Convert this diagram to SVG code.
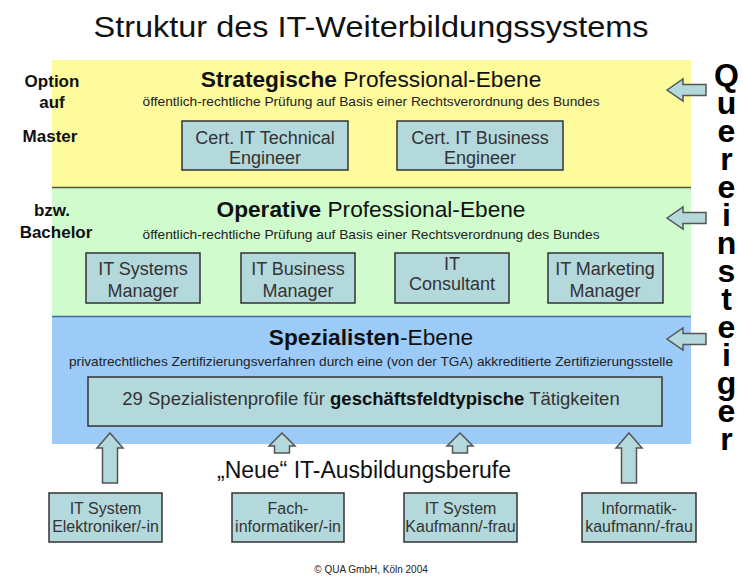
<svg xmlns="http://www.w3.org/2000/svg" width="743" height="577" viewBox="0 0 743 577">
<defs>
<style>
text{font-family:"Liberation Sans",Arial,sans-serif;}
.title{font-size:30px;fill:#111;}
.lbl{font-size:17px;font-weight:bold;fill:#111;text-anchor:middle;}
.head{font-size:22.7px;fill:#111;text-anchor:middle;}
.head .b{font-weight:bold;}
.sub{font-size:13px;fill:#222;text-anchor:middle;}
.box{fill:#b4d9dc;stroke:#333;stroke-width:1.5;}
.bt{font-size:18px;fill:#333;text-anchor:middle;}
.st{font-size:16px;fill:#333;text-anchor:middle;}
.arr{fill:#b4d9dc;stroke:#555;stroke-width:1.5;stroke-linejoin:miter;}
.qe{font-size:32px;font-weight:bold;fill:#000;writing-mode:vertical-rl;text-orientation:upright;letter-spacing:-8px;}
</style>
</defs>
<rect width="743" height="577" fill="#fff"/>
<text class="title" x="371" y="37" text-anchor="middle" textLength="555" lengthAdjust="spacingAndGlyphs">Struktur des IT-Weiterbildungssystems</text>

<g id="band-strategisch">
<rect x="52" y="60" width="639" height="127" fill="#fdfb9c"/>
<text class="head" x="371" y="87"><tspan class="b">Strategische</tspan> Professional-Ebene</text>
<text class="sub" x="371" y="106" textLength="457" lengthAdjust="spacingAndGlyphs">öffentlich-rechtliche Prüfung auf Basis einer Rechtsverordnung des Bundes</text>
</g>
<g id="band-operativ">
<rect x="52" y="188" width="639" height="128" fill="#cffbcd"/>
<text class="head" x="371" y="217"><tspan class="b">Operative</tspan> Professional-Ebene</text>
<text class="sub" x="371" y="239" textLength="457" lengthAdjust="spacingAndGlyphs">öffentlich-rechtliche Prüfung auf Basis einer Rechtsverordnung des Bundes</text>
</g>
<g id="band-spezialisten">
<rect x="52" y="317" width="639" height="127" fill="#9dcbf7"/>
<text class="head" x="371" y="345"><tspan class="b">Spezialisten</tspan>-Ebene</text>
<text class="sub" x="371" y="366" textLength="604" lengthAdjust="spacingAndGlyphs">privatrechtliches Zertifizierungsverfahren durch eine (von der TGA) akkreditierte Zertifizierungsstelle</text>
</g>
<line x1="52" y1="187.5" x2="691" y2="187.5" stroke="#55553f" stroke-width="1.5"/>
<line x1="52" y1="316.5" x2="691" y2="316.5" stroke="#3f6d9c" stroke-width="1.5"/>

<g id="labels">
<text class="lbl" x="52" y="87">Option</text>
<text class="lbl" x="52" y="108">auf</text>
<text class="lbl" x="50" y="142">Master</text>
<text class="lbl" x="52" y="216">bzw.</text>
<text class="lbl" x="56" y="238">Bachelor</text>
</g>

<g id="cert-technical">
<rect class="box" x="182" y="121" width="166" height="49"/>
<text class="bt" x="265" y="144">Cert. IT Technical</text>
<text class="bt" x="265" y="164">Engineer</text>
</g>
<g id="cert-business">
<rect class="box" x="397" y="121" width="166" height="49"/>
<text class="bt" x="480" y="144">Cert. IT Business</text>
<text class="bt" x="480" y="164">Engineer</text>
</g>

<g id="it-systems-manager">
<rect class="box" x="86" y="253" width="114" height="50"/>
<text class="bt" x="143" y="275">IT Systems</text>
<text class="bt" x="143" y="297">Manager</text>
</g>
<g id="it-business-manager">
<rect class="box" x="241" y="253" width="114" height="50"/>
<text class="bt" x="298" y="275">IT Business</text>
<text class="bt" x="298" y="297">Manager</text>
</g>
<g id="it-consultant">
<rect class="box" x="395" y="253" width="114" height="50"/>
<text class="bt" x="452" y="270">IT</text>
<text class="bt" x="452" y="290">Consultant</text>
</g>
<g id="it-marketing-manager">
<rect class="box" x="548" y="253" width="115" height="50"/>
<text class="bt" x="605" y="275">IT Marketing</text>
<text class="bt" x="605" y="297">Manager</text>
</g>

<g id="spezialistenprofile">
<rect class="box" x="88" y="377" width="574" height="49"/>
<text class="bt" x="371" y="405" style="font-size:18.5px">29 Spezialistenprofile für <tspan font-weight="bold" fill="#111">geschäftsfeldtypische</tspan> Tätigkeiten</text>
</g>

<text x="364" y="478" style="font-size:23px;fill:#111;text-anchor:middle">„Neue“ IT-Ausbildungsberufe</text>

<g id="elektroniker">
<rect class="box" x="49" y="493" width="113" height="49"/>
<text class="st" x="105.5" y="514">IT System</text>
<text class="st" x="105.5" y="532">Elektroniker/-in</text>
</g>
<g id="fachinformatiker">
<rect class="box" x="232" y="493" width="112" height="49"/>
<text class="st" x="288" y="514">Fach-</text>
<text class="st" x="288" y="532">informatiker/-in</text>
</g>
<g id="systemkaufmann">
<rect class="box" x="404" y="493" width="113" height="49"/>
<text class="st" x="460.5" y="514">IT System</text>
<text class="st" x="460.5" y="532">Kaufmann/-frau</text>
</g>
<g id="informatikkaufmann">
<rect class="box" x="582" y="493" width="114" height="49"/>
<text class="st" x="639" y="514">Informatik-</text>
<text class="st" x="639" y="532">kaufmann/-frau</text>
</g>

<g id="connectors">
<polygon class="arr" points="110,433 123,448 117.5,448 117.5,483 102.5,483 102.5,448 97,448"/>
<polygon class="arr" points="282,433 295,446 289.5,446 289.5,453 274.5,453 274.5,446 269,446"/>
<polygon class="arr" points="460,433 473,446 467.5,446 467.5,453 452.5,453 452.5,446 447,446"/>
<polygon class="arr" points="629,433 642,448 636.5,448 636.5,483 621.5,483 621.5,448 616,448"/>
<polygon class="arr" points="667,90 683,79 683,84.5 706,84.5 706,95.5 683,95.5 683,101"/>
<polygon class="arr" points="667,218 683,207 683,212.5 706,212.5 706,223.5 683,223.5 683,229"/>
<polygon class="arr" points="667,339 683,328 683,333.5 706,333.5 706,344.5 683,344.5 683,350"/>
</g>

<g id="quereinsteiger">
<text class="qe" x="726.5" y="57">Quereinsteiger</text>
</g>

<text x="371" y="573" style="font-size:10px;fill:#222;text-anchor:middle">© QUA GmbH, Köln 2004</text>
</svg>
